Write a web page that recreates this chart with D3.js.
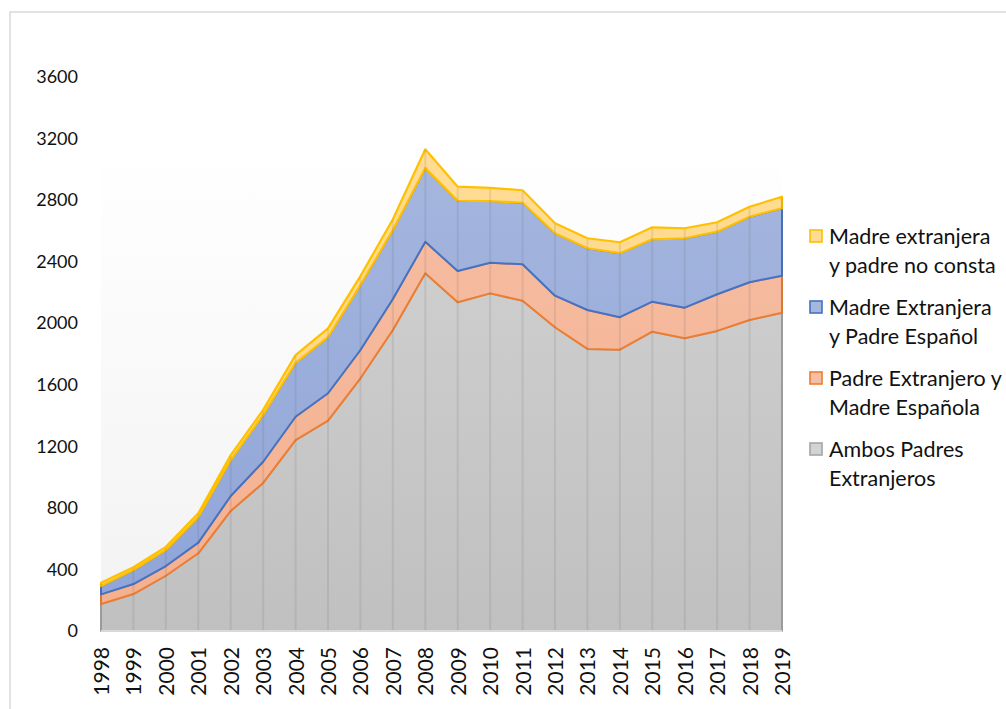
<!DOCTYPE html>
<html>
<head>
<meta charset="utf-8">
<script src="https://cdn.jsdelivr.net/npm/d3@7"></script>
<style>
  body { margin: 0; background: #fff; }
  svg { display: block; }
  text { font-family: Lato, "Open Sans", sans-serif; fill: #111; }
</style>
</head>
<body>
<svg></svg>
<script>
// values (births per year)
let years = ['1998','1999','2000','2001','2002','2003','2004','2005','2006','2007','2008',
             '2009','2010','2011','2012','2013','2014','2015','2016','2017','2018','2019'];
let ambos =        [175, 240, 359, 505, 780, 962, 1241, 1367, 1642, 1956, 2324, 2136, 2194, 2146, 1974, 1833, 1828, 1945, 1902, 1950, 2021, 2068];
let padreExt =     [ 63,  65,  63,  69,  97, 138,  151,  178,  184,  201,  205,  203,  199,  237,  205,  253,  211,  195,  199,  238,  245,  241];
let madreExtEsp =  [ 54,  91, 104, 165, 234, 304,  351,  364,  422,  448,  479,  457,  401,  400,  406,  401,  416,  405,  451,  407,  426,  438];
let madreNoConsta =[ 21,  18,  21,  26,  32,  33,   50,   58,   58,   71,  122,   91,   86,   81,   65,   65,   71,   78,   65,   61,   65,   75];
let yTicks = [0, 400, 800, 1200, 1600, 2000, 2400, 2800, 3200, 3600];

let keys = ['ambos','padreExt','madreExtEsp','madreNoConsta'];
let names = {
  ambos: ['Ambos Padres', 'Extranjeros'],
  padreExt: ['Padre Extranjero y', 'Madre Española'],
  madreExtEsp: ['Madre Extranjera', 'y Padre Español'],
  madreNoConsta: ['Madre extranjera', 'y padre no consta']
};
let colors = {
  ambos:        {line: '#a5a5a5', top: '#d3d3d3', bottom: '#c0c0c0'},
  padreExt:     {line: '#ed7d31', top: '#f6bea4', bottom: '#f4b08f'},
  madreExtEsp:  {line: '#4472c4', top: '#a6b7de', bottom: '#8ea4d8'},
  madreNoConsta:{line: '#ffc000', top: '#ffdc96', bottom: '#ffd47e'}
};

let w = 1006, h = 709;
let pLeft = 101, pRight = 782, pTop = 77, pBottom = 631;

let rows = years.map((yr, i) => ({
  year: yr, ambos: ambos[i], padreExt: padreExt[i],
  madreExtEsp: madreExtEsp[i], madreNoConsta: madreNoConsta[i]
}));

let svg = d3.select('svg').attr('width', w).attr('height', h);

// chart border
svg.append('rect')
  .attr('x', 10).attr('y', 12)
  .attr('width', w + 20).attr('height', h + 20)
  .attr('fill', 'none').attr('stroke', '#d9d9d9').attr('stroke-width', 1.5);

let xScale = d3.scalePoint().domain(years).range([pLeft, pRight]);
let yScale = d3.scaleLinear().domain([0, 3600]).range([pBottom, pTop]);

let defs = svg.append('defs');
let bg = defs.append('linearGradient').attr('id', 'bg')
  .attr('gradientUnits', 'userSpaceOnUse')
  .attr('x1', 0).attr('x2', 0).attr('y1', pTop).attr('y2', pBottom);
bg.append('stop').attr('offset', '0%').attr('stop-color', '#ffffff');
bg.append('stop').attr('offset', '12%').attr('stop-color', '#ffffff');
bg.append('stop').attr('offset', '100%').attr('stop-color', '#f2f2f2');

keys.forEach(k => {
  let g = defs.append('linearGradient').attr('id', 'g-' + k)
    .attr('gradientUnits', 'userSpaceOnUse')
    .attr('x1', 0).attr('x2', 0).attr('y1', yScale(3200)).attr('y2', pBottom);
  g.append('stop').attr('offset', '0%').attr('stop-color', colors[k].top);
  g.append('stop').attr('offset', '100%').attr('stop-color', colors[k].bottom);
});

// plot background
svg.append('rect')
  .attr('x', pLeft).attr('y', pTop)
  .attr('width', pRight - pLeft).attr('height', pBottom - pTop)
  .attr('fill', 'url(#bg)');

let series = d3.stack().keys(keys)(rows);

let area = d3.area()
  .x(d => xScale(d.data.year))
  .y0(d => yScale(d[0]))
  .y1(d => yScale(d[1]));

svg.append('g')
  .selectAll('path')
  .data(series)
  .enter()
  .append('path')
  .attr('d', area)
  .attr('fill', d => 'url(#g-' + d.key + ')')
  .attr('stroke', d => colors[d.key].line)
  .attr('stroke-width', d => d.key == 'madreNoConsta' ? 2.2 : 2)
  .attr('stroke-linejoin', 'round');

// vertical grid lines, only visible inside the stack
let totals = series[series.length - 1];
svg.append('g')
  .selectAll('line')
  .data(totals)
  .enter()
  .append('line')
  .attr('x1', d => xScale(d.data.year))
  .attr('x2', d => xScale(d.data.year))
  .attr('y1', pBottom)
  .attr('y2', d => yScale(d[1]) + 1)
  .attr('stroke', 'rgba(90,90,90,0.13)')
  .attr('stroke-width', 2);

// x axis line
svg.append('line')
  .attr('x1', pLeft).attr('x2', pRight)
  .attr('y1', pBottom).attr('y2', pBottom)
  .attr('stroke', '#d9d9d9').attr('stroke-width', 2);

let yAxis = d3.axisLeft(yScale).tickValues(yTicks).tickFormat(d3.format('d'))
  .tickSize(0).tickPadding(23);
let yg = svg.append('g')
  .attr('transform', 'translate(' + pLeft + ',0)')
  .call(yAxis);
yg.select('.domain').remove();
yg.selectAll('text').style('font-size', '18px').attr('fill', '#111');

let xAxis = d3.axisBottom(xScale).tickSize(0);
let xg = svg.append('g')
  .attr('transform', 'translate(0,' + pBottom + ')')
  .call(xAxis);
xg.select('.domain').remove();
xg.selectAll('text')
  .style('font-size', '21px')
  .attr('fill', '#111')
  .attr('text-anchor', 'end')
  .attr('transform', 'rotate(-90)')
  .attr('x', -16)
  .attr('y', 0)
  .attr('dy', '0.36em');

// legend, top entry is the top series
let legend = svg.append('g').attr('transform', 'translate(809,229)');
keys.slice().reverse().forEach((k, i) => {
  let item = legend.append('g').attr('transform', 'translate(0,' + (i * 71) + ')');
  item.append('rect')
    .attr('x', 1).attr('y', 1).attr('width', 12).attr('height', 12)
    .attr('fill', colors[k].top)
    .attr('stroke', colors[k].line).attr('stroke-width', 1.6);
  item.selectAll('text')
    .data(names[k])
    .enter()
    .append('text')
    .attr('x', 20)
    .attr('y', (d, j) => 7 + j * 29)
    .attr('dy', '0.35em')
    .style('font-size', '21.5px')
    .text(d => d);
});
</script>
</body>
</html>
